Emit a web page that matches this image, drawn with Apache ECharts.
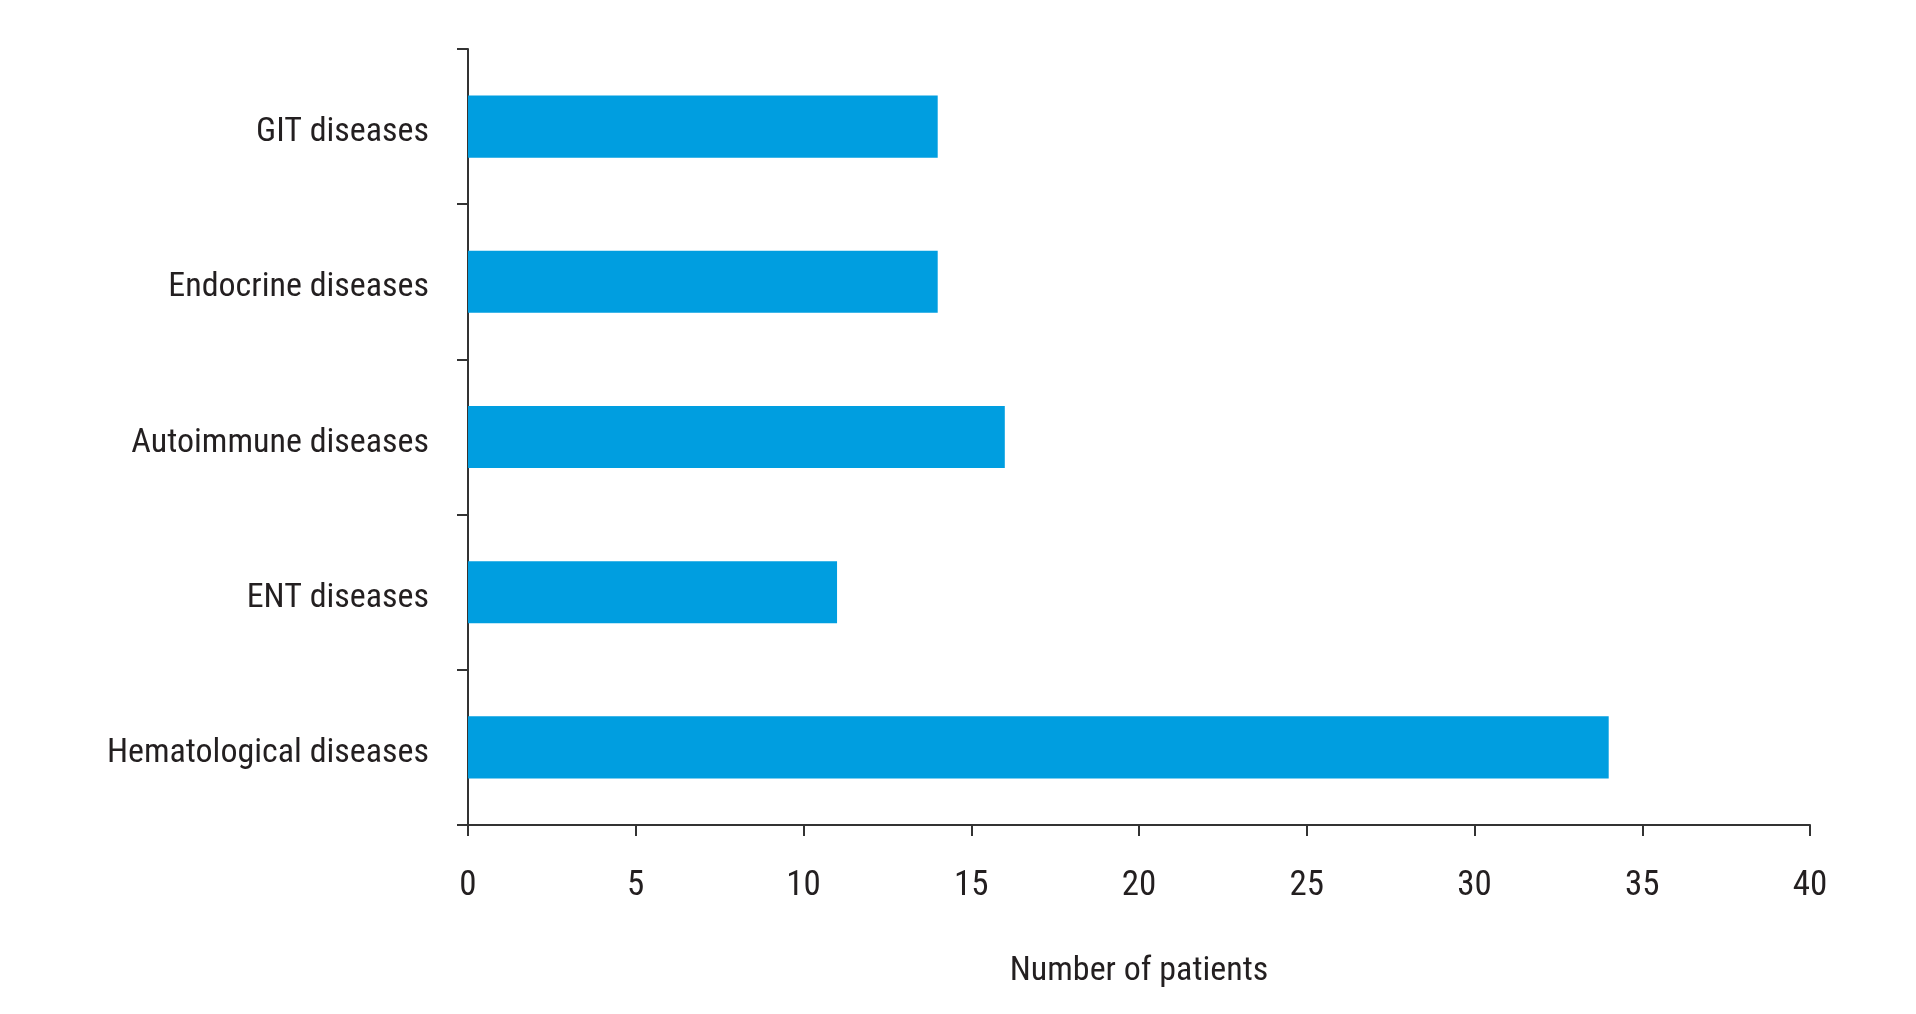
<!DOCTYPE html>
<html>
<head>
<meta charset="utf-8">
<script src="https://cdn.jsdelivr.net/npm/echarts@6/dist/echarts.min.js"></script>
<style>
html,body{margin:0;padding:0;background:#fff;}
#chart{width:1916px;height:1014px;}
</style>
</head>
<body>
<div id="chart"></div>
<script>
const categories = ["Hematological diseases", "ENT diseases", "Autoimmune diseases", "Endocrine diseases", "GIT diseases"];
const patients = [34, 11, 16, 14, 14];
const xTicks = [0, 5, 10, 15, 20, 25, 30, 35, 40];
const xAxisName = "Number of patients";

const chart = echarts.init(document.getElementById('chart'), null, {renderer: 'canvas'});
const font = "'Roboto Condensed', 'Liberation Sans', sans-serif";
const axisColor = '#333333';
const textColor = '#231F20';
chart.setOption({
  animation: false,
  backgroundColor: '#ffffff',
  grid: {left: 468, right: 106, top: 49, bottom: 189, containLabel: false},
  xAxis: {
    type: 'value',
    min: xTicks[0],
    max: xTicks[xTicks.length - 1],
    interval: 5,
    name: xAxisName,
    nameLocation: 'middle',
    nameGap: 129,
    nameTextStyle: {fontFamily: font, fontSize: 34, color: textColor},
    axisLine: {show: true, lineStyle: {color: axisColor, width: 2}},
    axisTick: {show: true, length: 11, lineStyle: {color: axisColor, width: 2}},
    axisLabel: {margin: 44, fontFamily: font, fontSize: 35, color: textColor},
    splitLine: {show: false}
  },
  yAxis: {
    type: 'category',
    data: categories,
    axisLine: {show: true, lineStyle: {color: axisColor, width: 2}},
    axisTick: {show: true, length: 11, lineStyle: {color: axisColor, width: 2}},
    axisLabel: {margin: 39, verticalAlign: 'top', lineHeight: 12, fontFamily: font, fontSize: 34, color: textColor},
    splitLine: {show: false}
  },
  series: [{
    type: 'bar',
    data: patients,
    barWidth: '40%',
    itemStyle: {color: '#009EE0'}
  }]
});
</script>
</body>
</html>
